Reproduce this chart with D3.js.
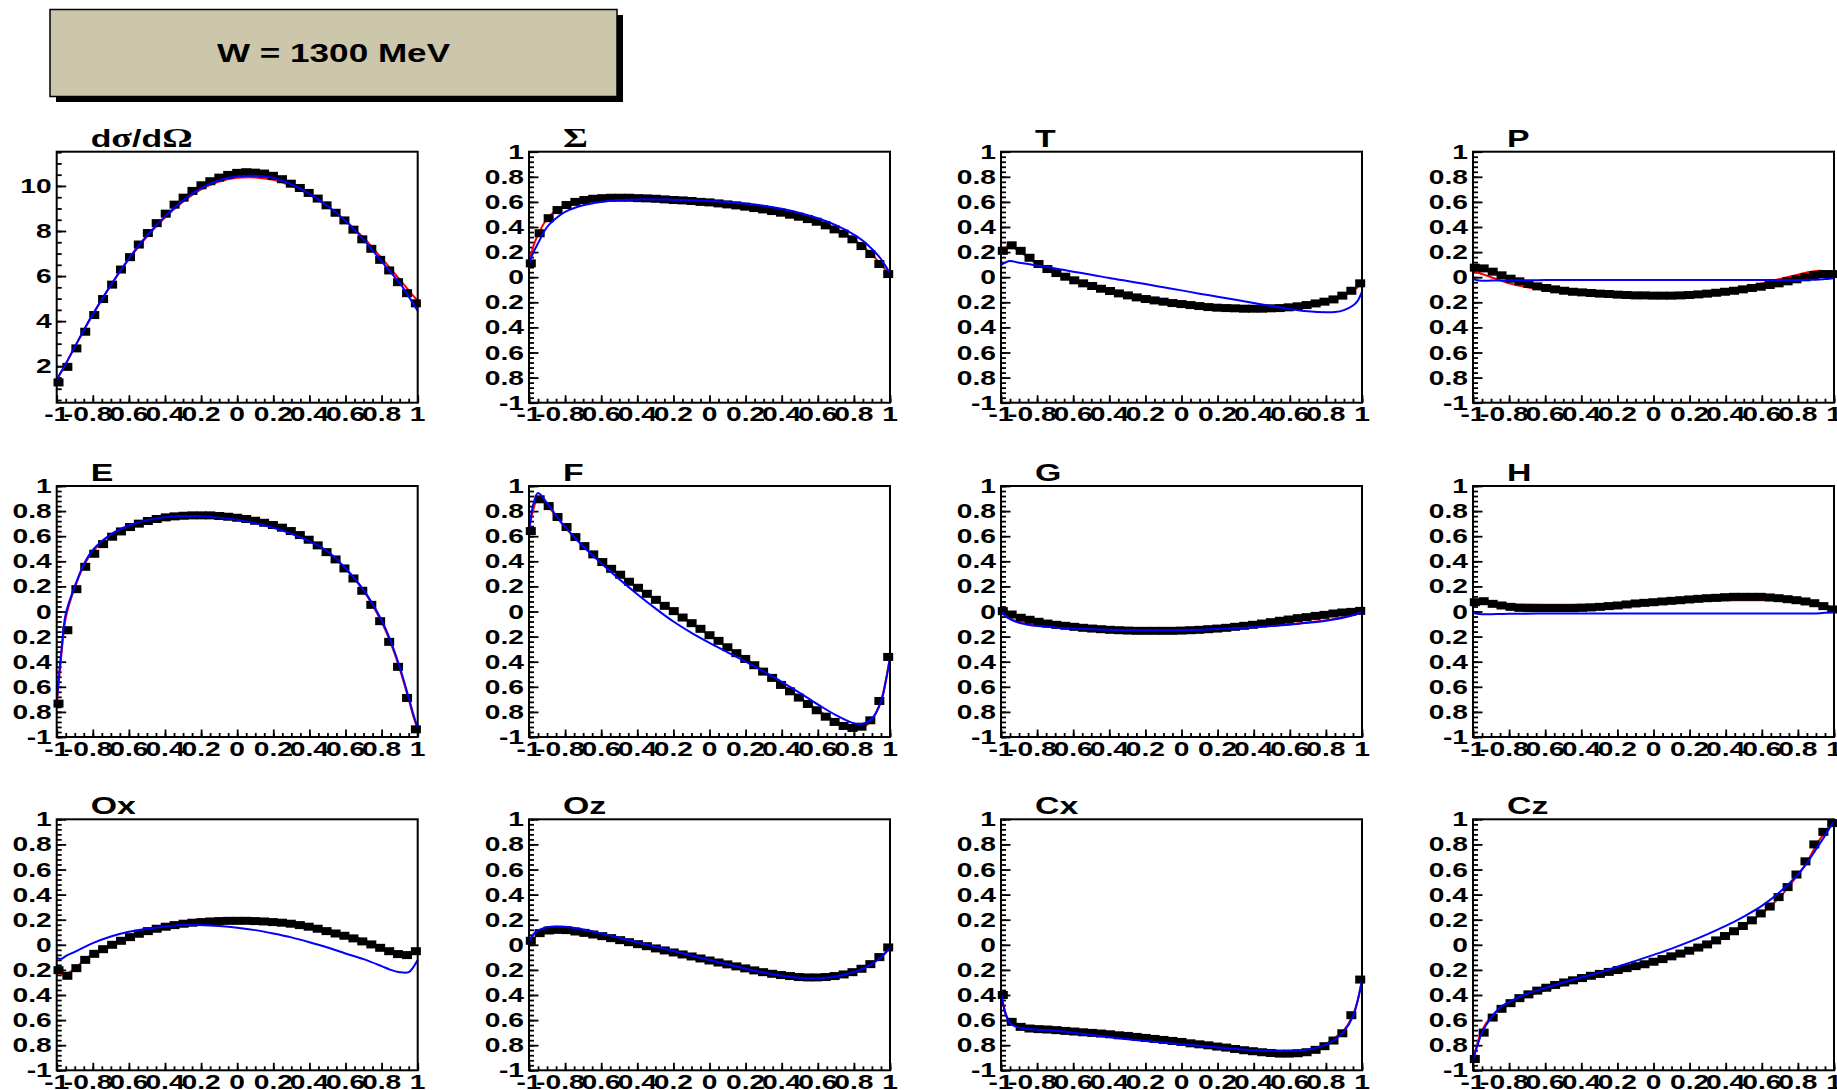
<!DOCTYPE html>
<html>
<head>
<meta charset="utf-8">
<script src="https://cdn.jsdelivr.net/npm/d3@7"></script>
<style>
  html, body { margin: 0; padding: 0; background: #ffffff; }
  svg { display: block; }
</style>
</head>
<body>
<svg id="chart" width="1837" height="1090"></svg>
<script>
// ---- cos(theta) positions of the measured points and of the model curves ----
const cosData = [-0.99,-0.941,-0.891,-0.842,-0.792,-0.743,-0.693,-0.644,-0.594,-0.545,-0.495,-0.446,-0.396,-0.347,-0.297,-0.248,-0.198,-0.149,-0.099,-0.05,0,0.05,0.099,0.149,0.198,0.248,0.297,0.347,0.396,0.446,0.495,0.545,0.594,0.644,0.693,0.743,0.792,0.842,0.891,0.941,0.99];
const cosCurve = [-1,-0.975,-0.95,-0.9,-0.85,-0.8,-0.7,-0.6,-0.5,-0.4,-0.3,-0.2,-0.1,0,0.1,0.2,0.3,0.4,0.5,0.6,0.7,0.8,0.85,0.9,0.95,0.975,1];

// ---- observables: points (black), fit 1 (red), fit 2 (blue) ----
const dsigData = [1.28,1.97,2.79,3.53,4.27,4.98,5.62,6.29,6.84,7.40,7.91,8.35,8.77,9.17,9.48,9.78,10.03,10.21,10.37,10.49,10.58,10.61,10.59,10.55,10.45,10.30,10.10,9.91,9.69,9.44,9.14,8.81,8.47,8.06,7.63,7.21,6.72,6.25,5.73,5.24,4.79];
const dsigRed  = [1.4,1.75,2.1,2.85,3.6,4.3,5.6,6.75,7.75,8.6,9.3,9.85,10.2,10.36,10.38,10.27,10.0,9.6,9.1,8.45,7.7,6.8,6.33,5.85,5.37,5.13,4.9];
const dsigBlue = [1.4,1.75,2.1,2.85,3.6,4.3,5.6,6.78,7.8,8.65,9.35,9.9,10.25,10.42,10.45,10.35,10.07,9.65,9.12,8.45,7.62,6.65,6.17,5.7,5.1,4.78,4.45];

const sigmaData = [0.11,0.35,0.47,0.535,0.575,0.60,0.615,0.625,0.63,0.633,0.633,0.633,0.63,0.628,0.625,0.62,0.615,0.612,0.607,0.60,0.596,0.588,0.58,0.572,0.562,0.551,0.54,0.527,0.514,0.498,0.482,0.463,0.442,0.413,0.381,0.347,0.302,0.248,0.185,0.105,0.025];
const sigmaRed  = [0.11,0.25,0.34,0.465,0.53,0.57,0.612,0.628,0.632,0.63,0.624,0.614,0.604,0.595,0.58,0.562,0.54,0.513,0.48,0.44,0.38,0.30,0.245,0.18,0.1,0.06,0.02];
const sigmaBlue = [0.11,0.2,0.27,0.40,0.47,0.52,0.573,0.6,0.615,0.62,0.62,0.618,0.614,0.608,0.6,0.588,0.57,0.545,0.512,0.47,0.415,0.34,0.29,0.225,0.145,0.09,0.03];

const tData = [0.21,0.254,0.21,0.155,0.105,0.065,0.033,0.004,-0.025,-0.049,-0.07,-0.092,-0.11,-0.129,-0.145,-0.161,-0.174,-0.185,-0.195,-0.206,-0.214,-0.222,-0.23,-0.238,-0.243,-0.246,-0.248,-0.251,-0.251,-0.251,-0.248,-0.246,-0.24,-0.232,-0.222,-0.209,-0.195,-0.177,-0.147,-0.108,-0.049];
const tRed  = [0.21,0.235,0.245,0.21,0.155,0.105,0.033,-0.025,-0.07,-0.11,-0.145,-0.174,-0.195,-0.214,-0.23,-0.243,-0.25,-0.251,-0.248,-0.24,-0.222,-0.195,-0.177,-0.147,-0.108,-0.08,-0.05];
const tBlue = [0.097,0.118,0.13,0.115,0.105,0.094,0.07,0.044,0.02,-0.007,-0.031,-0.055,-0.08,-0.105,-0.131,-0.155,-0.18,-0.206,-0.23,-0.254,-0.272,-0.28,-0.278,-0.262,-0.225,-0.19,-0.115];

const pData = [0.076,0.07,0.044,0.015,-0.012,-0.033,-0.054,-0.073,-0.086,-0.097,-0.108,-0.116,-0.121,-0.126,-0.131,-0.134,-0.139,-0.142,-0.145,-0.145,-0.147,-0.147,-0.147,-0.145,-0.142,-0.137,-0.131,-0.124,-0.116,-0.108,-0.097,-0.086,-0.076,-0.062,-0.049,-0.033,-0.017,-0.001,0.017,0.025,0.025];
const pRed  = [0.05,0.038,0.025,0.0,-0.025,-0.048,-0.08,-0.102,-0.118,-0.13,-0.138,-0.143,-0.146,-0.147,-0.145,-0.138,-0.125,-0.105,-0.08,-0.05,-0.015,0.02,0.038,0.05,0.048,0.04,0.03];
const pBlue = [-0.015,-0.025,-0.028,-0.027,-0.026,-0.025,-0.024,-0.023,-0.023,-0.023,-0.023,-0.023,-0.023,-0.023,-0.023,-0.023,-0.023,-0.023,-0.023,-0.023,-0.023,-0.022,-0.021,-0.02,-0.015,-0.012,-0.008];

const eData = [-0.734,-0.149,0.178,0.356,0.46,0.537,0.596,0.638,0.673,0.70,0.721,0.737,0.75,0.758,0.763,0.766,0.766,0.766,0.761,0.755,0.747,0.737,0.723,0.707,0.689,0.668,0.641,0.609,0.572,0.527,0.473,0.415,0.343,0.263,0.165,0.053,-0.077,-0.242,-0.441,-0.689,-0.939];
const eRed  = [-0.74,-0.36,-0.05,0.19,0.365,0.48,0.61,0.68,0.726,0.752,0.762,0.762,0.752,0.735,0.708,0.672,0.625,0.563,0.478,0.34,0.165,-0.085,-0.25,-0.455,-0.7,-0.83,-0.94];
const eBlue = [-0.73,-0.33,-0.02,0.2,0.375,0.49,0.615,0.685,0.728,0.752,0.76,0.758,0.748,0.73,0.703,0.667,0.62,0.56,0.48,0.345,0.172,-0.07,-0.235,-0.44,-0.685,-0.815,-0.93];

const fData = [0.641,0.894,0.84,0.753,0.673,0.593,0.521,0.455,0.394,0.34,0.293,0.237,0.189,0.141,0.093,0.045,0.003,-0.048,-0.093,-0.138,-0.189,-0.234,-0.285,-0.332,-0.378,-0.428,-0.479,-0.529,-0.585,-0.636,-0.686,-0.737,-0.787,-0.838,-0.88,-0.912,-0.928,-0.918,-0.867,-0.713,-0.362];
const fRed  = [0.64,0.82,0.9,0.85,0.755,0.67,0.52,0.392,0.29,0.188,0.093,0.0,-0.093,-0.19,-0.285,-0.378,-0.475,-0.58,-0.685,-0.785,-0.875,-0.93,-0.925,-0.86,-0.71,-0.56,-0.36];
const fBlue = [0.64,0.86,0.945,0.865,0.765,0.675,0.52,0.385,0.258,0.138,0.025,-0.08,-0.17,-0.25,-0.325,-0.4,-0.478,-0.56,-0.648,-0.74,-0.825,-0.89,-0.895,-0.855,-0.72,-0.57,-0.37];

const gData = [0.003,-0.024,-0.05,-0.066,-0.082,-0.096,-0.106,-0.114,-0.122,-0.13,-0.136,-0.141,-0.146,-0.149,-0.152,-0.154,-0.154,-0.154,-0.154,-0.154,-0.152,-0.149,-0.146,-0.141,-0.136,-0.13,-0.122,-0.114,-0.106,-0.096,-0.085,-0.074,-0.064,-0.053,-0.045,-0.035,-0.027,-0.016,-0.008,-0.003,0.005];
const gRed  = [0.0,-0.03,-0.055,-0.085,-0.1,-0.11,-0.122,-0.13,-0.135,-0.138,-0.14,-0.141,-0.141,-0.14,-0.138,-0.134,-0.128,-0.12,-0.111,-0.1,-0.087,-0.07,-0.058,-0.045,-0.027,-0.015,0.0];
const gBlue = [0.0,-0.035,-0.06,-0.09,-0.105,-0.115,-0.127,-0.135,-0.141,-0.145,-0.148,-0.149,-0.149,-0.148,-0.145,-0.14,-0.133,-0.125,-0.116,-0.105,-0.09,-0.073,-0.062,-0.048,-0.03,-0.017,0.0];

const hData = [0.074,0.082,0.061,0.048,0.037,0.029,0.027,0.027,0.027,0.027,0.027,0.027,0.029,0.032,0.037,0.043,0.048,0.056,0.064,0.069,0.074,0.08,0.085,0.09,0.096,0.101,0.106,0.109,0.114,0.117,0.117,0.117,0.117,0.112,0.106,0.098,0.09,0.08,0.066,0.043,0.016];
const hRed  = [0.07,0.075,0.075,0.07,0.063,0.058,0.055,0.054,0.054,0.055,0.057,0.06,0.065,0.07,0.075,0.08,0.085,0.088,0.09,0.09,0.088,0.08,0.075,0.068,0.055,0.04,0.02];
const hBlue = [-0.01,-0.018,-0.022,-0.022,-0.02,-0.018,-0.017,-0.016,-0.016,-0.016,-0.016,-0.016,-0.016,-0.016,-0.016,-0.016,-0.016,-0.016,-0.016,-0.016,-0.016,-0.016,-0.016,-0.015,-0.01,-0.006,-0.003];

const oxData = [-0.202,-0.247,-0.186,-0.12,-0.072,-0.035,0.0,0.032,0.061,0.088,0.109,0.128,0.144,0.157,0.168,0.176,0.181,0.186,0.189,0.191,0.191,0.191,0.189,0.186,0.181,0.176,0.168,0.157,0.144,0.128,0.109,0.09,0.072,0.051,0.027,0.003,-0.024,-0.051,-0.074,-0.082,-0.051];
const oxRed  = [-0.2,-0.235,-0.235,-0.19,-0.125,-0.075,-0.003,0.055,0.1,0.135,0.158,0.172,0.18,0.182,0.179,0.17,0.155,0.134,0.108,0.077,0.04,-0.03,-0.055,-0.07,-0.08,-0.07,-0.05];
const oxBlue = [-0.104,-0.112,-0.09,-0.056,-0.021,0.013,0.066,0.104,0.128,0.146,0.157,0.157,0.149,0.136,0.117,0.09,0.059,0.021,-0.021,-0.069,-0.114,-0.17,-0.2,-0.218,-0.218,-0.18,-0.122];

const ozData = [0.032,0.093,0.114,0.119,0.117,0.106,0.095,0.082,0.069,0.053,0.037,0.021,0.005,-0.011,-0.029,-0.045,-0.061,-0.077,-0.093,-0.109,-0.125,-0.141,-0.156,-0.172,-0.188,-0.204,-0.218,-0.231,-0.241,-0.249,-0.257,-0.26,-0.26,-0.257,-0.249,-0.236,-0.218,-0.191,-0.154,-0.098,-0.021];
const ozRed  = [0.02,0.08,0.11,0.135,0.14,0.138,0.118,0.088,0.053,0.018,-0.017,-0.052,-0.087,-0.122,-0.157,-0.19,-0.22,-0.244,-0.259,-0.263,-0.25,-0.215,-0.187,-0.15,-0.095,-0.06,-0.022];
const ozBlue = [0.02,0.085,0.115,0.14,0.146,0.143,0.122,0.091,0.056,0.02,-0.015,-0.05,-0.086,-0.121,-0.156,-0.19,-0.221,-0.246,-0.262,-0.266,-0.252,-0.217,-0.19,-0.152,-0.1,-0.065,-0.025];

const cxData = [-0.40,-0.614,-0.654,-0.667,-0.672,-0.675,-0.68,-0.686,-0.691,-0.697,-0.702,-0.707,-0.713,-0.721,-0.726,-0.734,-0.742,-0.75,-0.758,-0.766,-0.774,-0.785,-0.793,-0.801,-0.811,-0.819,-0.83,-0.84,-0.848,-0.856,-0.862,-0.867,-0.867,-0.864,-0.856,-0.837,-0.808,-0.763,-0.705,-0.561,-0.277];
const cxRed  = [-0.38,-0.54,-0.615,-0.645,-0.65,-0.655,-0.662,-0.675,-0.695,-0.718,-0.74,-0.76,-0.775,-0.79,-0.805,-0.82,-0.835,-0.85,-0.86,-0.862,-0.845,-0.79,-0.74,-0.68,-0.56,-0.45,-0.28];
const cxBlue = [-0.38,-0.55,-0.625,-0.66,-0.67,-0.676,-0.685,-0.7,-0.717,-0.735,-0.752,-0.767,-0.78,-0.792,-0.805,-0.818,-0.83,-0.84,-0.845,-0.845,-0.835,-0.795,-0.755,-0.69,-0.57,-0.45,-0.28];

const czData = [-0.91,-0.70,-0.58,-0.51,-0.465,-0.425,-0.395,-0.365,-0.342,-0.32,-0.30,-0.283,-0.265,-0.247,-0.232,-0.216,-0.201,-0.186,-0.17,-0.155,-0.135,-0.114,-0.092,-0.07,-0.047,-0.022,0.003,0.035,0.07,0.108,0.15,0.195,0.25,0.305,0.38,0.46,0.56,0.665,0.8,0.9,0.97];
const czRed  = [-0.93,-0.78,-0.68,-0.575,-0.51,-0.47,-0.41,-0.363,-0.32,-0.282,-0.248,-0.213,-0.175,-0.135,-0.09,-0.045,0.005,0.07,0.15,0.25,0.38,0.56,0.66,0.79,0.9,0.94,0.97];
const czBlue = [-0.92,-0.8,-0.7,-0.58,-0.5,-0.455,-0.39,-0.345,-0.3,-0.26,-0.22,-0.175,-0.128,-0.08,-0.03,0.025,0.085,0.15,0.225,0.31,0.42,0.56,0.65,0.76,0.87,0.93,0.98];

// ---- axis tick values and labels ----
const xMajorTicks = [-1,-0.8,-0.6,-0.4,-0.2,0,0.2,0.4,0.6,0.8,1];
const xTickLabels = ["-1","-0.8","0.6","0.4","0.2","0","0.2","0.4","0.6","0.8","1"];
const polTicks = [1,0.8,0.6,0.4,0.2,0,-0.2,-0.4,-0.6,-0.8,-1];
const polTickLabels = ["1","0.8","0.6","0.4","0.2","0","0.2","0.4","0.6","0.8","-1"];
const dsigTicks = [2,4,6,8,10];
const dsigTickLabels = ["2","4","6","8","10"];
const dsigRange = [0.38, 11.52];
const polRange = [-1, 1];

const pageTitle = "W = 1300 MeV";

// ---- build the panel list ----
const panels = [
  {title: [["d","sans"],["σ","serif"],["/d","sans"],["Ω","serif"]], data: dsigData, red: dsigRed, blue: dsigBlue, range: dsigRange, ticks: dsigTicks, labels: dsigTickLabels, minor: 0.5},
  {title: [["Σ","serif"]], data: sigmaData, red: sigmaRed, blue: sigmaBlue},
  {title: [["T","sans"]], data: tData, red: tRed, blue: tBlue},
  {title: [["P","sans"]], data: pData, red: pRed, blue: pBlue},
  {title: [["E","sans"]], data: eData, red: eRed, blue: eBlue},
  {title: [["F","sans"]], data: fData, red: fRed, blue: fBlue},
  {title: [["G","sans"]], data: gData, red: gRed, blue: gBlue},
  {title: [["H","sans"]], data: hData, red: hRed, blue: hBlue},
  {title: [["Ox","sans"]], data: oxData, red: oxRed, blue: oxBlue},
  {title: [["Oz","sans"]], data: ozData, red: ozRed, blue: ozBlue},
  {title: [["Cx","sans"]], data: cxData, red: cxRed, blue: cxBlue},
  {title: [["Cz","sans"]], data: czData, red: czRed, blue: czBlue}
];

// ---- layout ----
const SX = 1.41;                 // horizontal text stretch
const SANS = '"Liberation Sans", Arial, Helvetica, sans-serif';
const SERIF = '"Liberation Serif", "Times New Roman", serif';
const colLeft = [56.7, 529, 1001, 1473];
const rowTop = [151.7, 486, 819.3];
const frameW = 361, frameH = 251;

const svg = d3.select("#chart");

function stretchText(g, x, y, str, size, anchor, sx) {
  return g.append("text")
    .attr("transform", `translate(${x},${y}) scale(${sx || SX},1)`)
    .attr("text-anchor", anchor)
    .style("font-family", SANS)
    .style("font-weight", "bold")
    .style("font-size", size + "px")
    .attr("fill", "#000")
    .text(str);
}

// ---- header box ----
const hdr = svg.append("g");
hdr.append("rect").attr("x", 56).attr("y", 15).attr("width", 567).attr("height", 87).attr("fill", "#000");
hdr.append("rect").attr("x", 50).attr("y", 9.5).attr("width", 567).attr("height", 87)
  .attr("fill", "#ccc6aa").attr("stroke", "#000").attr("stroke-width", 1.5);
stretchText(hdr, 333.5, 62, pageTitle, 26, "middle", 1.35);

// ---- panels ----
panels.forEach((p, k) => {
  const col = k % 4, row = Math.floor(k / 4);
  const left = colLeft[col], top = rowTop[row];
  const g = svg.append("g").attr("transform", `translate(${left},${top})`);

  const x = d3.scaleLinear().domain([-1, 1]).range([0, frameW]);
  const y = d3.scaleLinear().domain(p.range || polRange).range([frameH, 0]);
  const yTicks = p.ticks || polTicks;
  const yLabels = p.labels || polTickLabels;
  const minorStep = p.minor || 0.04;
  const yd = y.domain();
  const yMinor = d3.range(Math.ceil(yd[0] / minorStep - 1e-6), Math.floor(yd[1] / minorStep + 1e-6) + 1).map(i => +(i * minorStep).toFixed(4));
  const xMinor = d3.range(-20, 21).map(i => i * 0.05);

  // tick marks (inside the frame)
  const axY1 = g.append("g").call(d3.axisLeft(y).tickValues(yMinor).tickSize(-5).tickFormat(""));
  const axY2 = g.append("g").call(d3.axisLeft(y).tickValues(yTicks).tickSize(-9.5).tickFormat(""));
  const axX1 = g.append("g").attr("transform", `translate(0,${frameH})`).call(d3.axisBottom(x).tickValues(xMinor).tickSize(-4).tickFormat(""));
  const axX2 = g.append("g").attr("transform", `translate(0,${frameH})`).call(d3.axisBottom(x).tickValues(xMajorTicks).tickSize(-7.5).tickFormat(""));
  [axY1, axY2, axX1, axX2].forEach(a => {
    a.select(".domain").remove();
    a.selectAll("line").attr("stroke", "#000").attr("stroke-width", 1.8);
  });

  // tick labels
  yTicks.forEach((v, i) => stretchText(g, -5, y(v) + 7, yLabels[i], 20, "end"));
  xMajorTicks.forEach((v, i) => {
    const lab = xTickLabels[i];
    if (lab.startsWith("-") && lab !== "-1") {
      const body = lab.slice(1);
      const t = stretchText(g, x(v), frameH + 18.5, body, 20, "middle");
      const w = t.node().getComputedTextLength() * SX;
      stretchText(g, x(v) - w / 2, frameH + 18.5, "-", 20, "end");
    } else {
      stretchText(g, x(v), frameH + 18.5, lab, 20, "middle");
    }
  });

  // model curves and points
  const line = d3.line().x((d, i) => x(cosCurve[i])).y(d => y(d)).curve(d3.curveCatmullRom.alpha(0.5));
  g.append("path").datum(p.red).attr("d", line).attr("fill", "none").attr("stroke", "#ff0000").attr("stroke-width", 2);
  g.selectAll("rect.pt").data(p.data).join("rect").attr("class", "pt")
    .attr("x", (d, i) => x(cosData[i]) - 5).attr("y", d => y(d) - 4)
    .attr("width", 10).attr("height", 8).attr("fill", "#000");
  g.append("path").datum(p.blue).attr("d", line).attr("fill", "none").attr("stroke", "#0000ff").attr("stroke-width", 2);

  // frame
  g.append("rect").attr("x", 0).attr("y", 0).attr("width", frameW).attr("height", frameH)
    .attr("fill", "none").attr("stroke", "#000").attr("stroke-width", 2);

  // panel title
  const tt = g.append("text")
    .attr("transform", `translate(34,-5) scale(${SX},1)`)
    .attr("fill", "#000");
  p.title.forEach(([s, fam]) => {
    tt.append("tspan").text(s)
      .style("font-family", fam === "serif" ? SERIF : SANS)
      .style("font-weight", "bold")
      .style("font-size", fam === "serif" ? "27px" : "24px");
  });
});
</script>
</body>
</html>
